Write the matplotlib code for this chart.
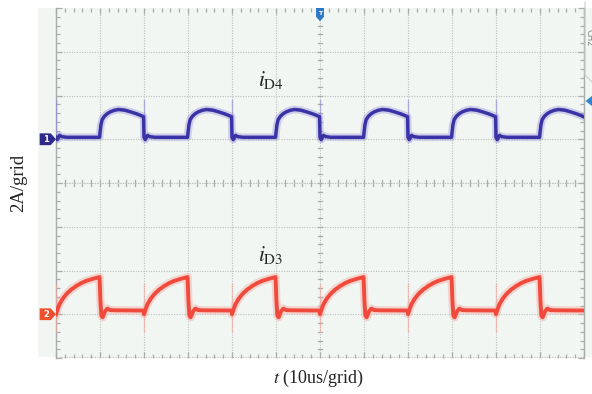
import numpy as np
import matplotlib
matplotlib.use("Agg")
import matplotlib.pyplot as plt
from matplotlib.patches import Rectangle, Polygon
from matplotlib.transforms import blended_transform_factory

plt.rcParams['mathtext.fontset'] = 'stix'

# ---------------- data (time in us, current in A) ----------------
period_starts = [0, 20, 40, 60, 80, 100]

# iD4 one period, starting at its falling edge
blue_t = [0.0, 0.3, 0.8, 1.3, 2.5, 9.9, 10.0, 10.2, 10.5, 11.0, 11.6, 12.3,
          13.2, 14.2, 15.6, 17.0, 18.5, 19.9]
blue_a = [0.09, -0.02, 0.18, 0.12, 0.09, 0.09, 0.30, 0.65, 0.90, 1.05, 1.16, 1.25,
          1.32, 1.36, 1.33, 1.25, 1.15, 1.03]
blue_spike = (0.09, 1.78)

# iD3 one period, starting at its rising edge
red_t = [0.0, 0.4, 0.8, 1.5, 2.3, 3.4, 4.6, 5.7, 6.8, 8.2, 9.5, 9.9,
         10.1, 10.3, 10.6, 11.2, 11.7, 12.3, 13.5, 19.9]
red_a = [0.00, 0.25, 0.46, 0.70, 0.91, 1.12, 1.29, 1.42, 1.52, 1.61, 1.68, 1.70,
         0.60, -0.05, -0.14, 0.15, 0.26, 0.19, 0.18, 0.17]
red_spike = (-0.8, 1.4)

ch1_offset = 10.0   # ground of channel 1 (A on screen scale)
ch2_offset = 2.0    # ground of channel 2
trig_level = 11.75

def tile(t, a, starts):
    tt, aa = [], []
    for s in starts:
        tt += [s + v for v in t]
        aa += list(a)
    return np.array(tt), np.array(aa)

bt, ba = tile(blue_t, blue_a, period_starts)
rt, ra = tile(red_t, red_a, period_starts)

# ---------------- figure ----------------
W, H = 592, 394
fig = plt.figure(figsize=(W / 100, H / 100), dpi=100)
fig.patch.set_facecolor('white')
bg = '#f2f6f3'
fig.patches.append(Rectangle((38 / W, (H - 357) / H), (W - 38) / W, (357 - 8) / H,
                             transform=fig.transFigure, facecolor=bg, edgecolor='none', zorder=-5))

ax = fig.add_axes([56 / W, (H - 358) / H, 528 / W, 350 / H])
ax.set_facecolor(bg)
ax.set_xlim(0, 120)
ax.set_ylim(0, 16)

gridc = '#bcc0bd'
for x in range(10, 120, 10):
    ax.axvline(x, color=gridc, lw=0.8, ls=(0, (1, 1.3)), zorder=1)
for y in range(2, 16, 2):
    ax.axhline(y, color=gridc, lw=0.8, ls=(0, (1, 1.3)), zorder=1)
ax.axhline(0.05, color=gridc, lw=0.8, ls=(0, (1, 1.3)), zorder=1)

for s in ['top', 'bottom']:
    ax.spines[s].set_visible(False)
for s in ['left', 'right']:
    ax.spines[s].set_color('#a9adaa')
    ax.spines[s].set_linewidth(1.0)

ax.set_xticks(np.arange(0, 121, 10))
ax.set_xticks(np.arange(0, 121, 2), minor=True)
ax.set_yticks(np.arange(0, 16.1, 2))
ax.set_yticks(np.arange(0, 16.1, 0.4), minor=True)
ax.tick_params(which='both', direction='in', top=True, bottom=True, left=True, right=True,
               labelleft=False, labelbottom=False, color='#a9adaa', width=0.9)
ax.tick_params(which='major', length=4)
ax.tick_params(which='minor', length=3)

# centre-line ticks
tkc = '#a9adaa'
for x in np.arange(0, 121, 2):
    ax.plot([x, x], [7.88, 8.12], color=tkc, lw=0.9, zorder=1)
for y in np.arange(0, 16.1, 0.4):
    ax.plot([59.5, 60.5], [y, y], color=tkc, lw=0.9, zorder=1)
ax.axhline(8, color=gridc, lw=0.8, ls=(0, (1, 1.3)), zorder=1)

# traces
bcol, bglow = '#3a33a6', '#8c86d6'
rcol, rglow = '#f04a3c', '#f7a39a'
ax.plot(bt, ba + ch1_offset, color=bglow, lw=5.5, alpha=0.35, zorder=3, solid_joinstyle='round')
ax.plot(bt, ba + ch1_offset, color=bcol, lw=2.5, zorder=4, solid_joinstyle='round')
ax.plot(rt, ra + ch2_offset, color=rglow, lw=6, alpha=0.4, zorder=3, solid_joinstyle='round')
ax.plot(rt, ra + ch2_offset, color=rcol, lw=2.8, zorder=4, solid_joinstyle='round')
for s in period_starts:
    ax.plot([s + 0.05, s + 0.05], [blue_spike[0] + ch1_offset, blue_spike[1] + ch1_offset],
            color=bglow, lw=1.0, alpha=0.6, zorder=3)
    ax.plot([s + 0.05, s + 0.05], [red_spike[0] + ch2_offset, red_spike[1] + ch2_offset],
            color=rglow, lw=1.0, alpha=0.6, zorder=3)

# labels inside screen
ax.text(48.8, 12.7, r'$i_{\mathrm{D4}}$', fontsize=15.5, ha='center', va='center', color='#222222')
ax.text(48.8, 4.7, r'$i_{\mathrm{D3}}$', fontsize=15.5, ha='center', va='center', color='#222222')

# channel markers
bl = blended_transform_factory(ax.transAxes, ax.transData)
def chmark(yv, col, lab):
    h = 0.27
    poly = Polygon([[-0.031, yv - h], [-0.010, yv - h], [0.0, yv], [-0.010, yv + h], [-0.031, yv + h]],
                   closed=True, transform=bl, facecolor=col, edgecolor='none', clip_on=False, zorder=6)
    ax.add_patch(poly)
    ax.text(-0.019, yv, lab, transform=bl, color='white', fontsize=6, fontweight='bold',
            ha='center', va='center', clip_on=False, zorder=7)
chmark(ch1_offset, '#2e2a8c', '1')
chmark(ch2_offset, '#f0502c', '2')

# trigger time marker (top)
bx = blended_transform_factory(ax.transData, ax.transAxes)
tp = Polygon([[59.1, 1.0], [60.9, 1.0], [60.9, 0.975], [60, 0.962], [59.1, 0.975]], closed=True,
             transform=bx, facecolor='#2f78c8', edgecolor='none', clip_on=False, zorder=6)
ax.add_patch(tp)
ax.text(60, 0.983, 'T', transform=bx, color='white', fontsize=4.5, fontweight='bold',
        ha='center', va='center', clip_on=False, zorder=7)

# trigger level marker (right)
tl = Polygon([[1.003, trig_level], [1.016, trig_level + 0.25], [1.016, trig_level - 0.25]], closed=True,
             transform=bl, facecolor='#2f86d0', edgecolor='none', clip_on=False, zorder=6)
ax.add_patch(tl)
fig.text(589 / W, 1 - 38 / H, 'CH2', rotation=-90, fontsize=6, color='#888888', ha='center', va='center')
fig.lines.append(plt.Line2D([585 / W, 585 / W, 592 / W], [1 - 2 / H, 1 - 75 / H, 1 - 82 / H],
                            transform=fig.transFigure, color='#c8cbc9', lw=0.8))

# axis labels
fig.text(19 / W, 1 - 183 / H, '2A/grid', rotation=90, fontsize=13.5, family='Liberation Serif',
         ha='center', va='center', color='#222222')
fig.text(318 / W, 1 - 378 / H, r'$t$ (10us/grid)', fontsize=13, family='Liberation Serif',
         ha='center', va='center', color='#222222')

fig.savefig('out.png', dpi=100)
